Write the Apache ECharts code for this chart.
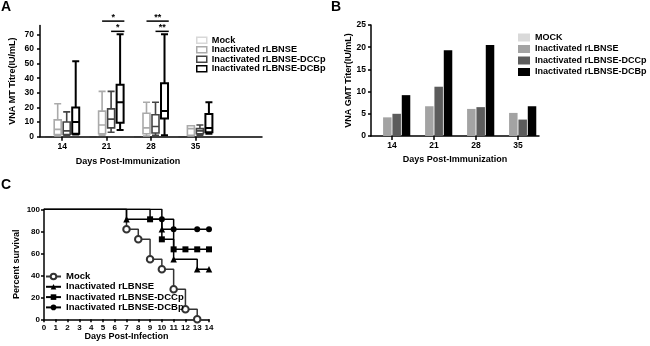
<!DOCTYPE html>
<html>
<head>
<meta charset="utf-8">
<script src="https://cdn.jsdelivr.net/npm/echarts@6.0.0/dist/echarts.min.js"></script>
<style>
  html, body { margin: 0; padding: 0; background: #fff; }
  #main { width: 650px; height: 346px; }
</style>
</head>
<body>
<div id="main"></div>
<script>
// ---- data ----
const groupsA = ['Mock', 'Inactivated rLBNSE', 'Inactivated rLBNSE-DCCp', 'Inactivated rLBNSE-DCBp']
const groupsB = ['MOCK', 'Inactivated rLBNSE', 'Inactivated rLBNSE-DCCp', 'Inactivated rLBNSE-DCBp']
const groupsC = ['Mock', 'Inactivated rLBNSE', 'Inactivated rLBNSE-DCCp', 'Inactivated rLBNSE-DCBp']
const immunDays = ['14', '21', '28', '35']

// A: VNA MT titre, [min, Q1, median, Q3, max] per day
const boxMock = [[0, 0, 0, 0, 0], [0, 0, 0, 0, 0], [0, 0, 0, 0, 0], [0, 0, 0, 0, 0]]
const boxLBNSE = [[0.5, 1.5, 5, 11.5, 22.5], [1, 2, 8, 17.5, 31], [0.5, 2, 6, 16, 23.5], [0.5, 1, 5.5, 7.5, 7.5]]
const boxDCCp = [[0.5, 1.5, 4, 10, 17], [3, 6, 12, 19, 31], [1, 2.5, 7, 15, 23.5], [1, 2, 4, 5.5, 8]]
const boxDCBp = [[1.5, 2, 10, 20, 51.5], [4.5, 9.5, 23.5, 35.5, 70], [1, 12.5, 17.5, 36.5, 70], [2, 3, 6, 15.5, 23.5]]
const yTicksA = [0, 10, 20, 30, 40, 50, 60, 70]

// significance brackets (A)
const sigDay = ['21', '21', '28', '28']
const sigFrom = [1, 2, 1, 2]
const sigTo = [3, 3, 3, 3]
const sigLevel = [79, 72, 79, 72]
const sigText = ['*', '*', '**', '**']

// B: VNA GMT titer
const gmtMock = [0, 0, 0, 0]
const gmtLBNSE = [4.2, 6.7, 6.1, 5.2]
const gmtDCCp = [5.0, 11.1, 6.5, 3.7]
const gmtDCBp = [9.2, 19.3, 20.5, 6.7]

// C: survival
const mockDays = [0, 7, 8, 9, 10, 11, 12, 13]
const mockSurv = [100, 81.8, 72.7, 54.5, 45.5, 27.3, 9.1, 0]
const lbnseDays = [0, 7, 10, 11, 13, 14]
const lbnseSurv = [100, 90.9, 81.8, 54.5, 45.5, 45.5]
const dccpDays = [0, 9, 10, 11, 12, 13, 14]
const dccpSurv = [100, 90.9, 72.7, 63.6, 63.6, 63.6, 63.6]
const dcbpDays = [0, 10, 11, 13, 14]
const dcbpSurv = [100, 90.9, 81.8, 81.8, 81.8]

const FONT = 'Liberation Sans, Arial, sans-serif'
const boxColors = ['#d8d8d8', '#aaaaaa', '#444444', '#000']
const barColors = ['#d9d9d9', '#a3a3a3', '#5c5c5c', '#000']

let chart = echarts.init(document.getElementById('main'))

function axisCommon() {
  return {
    axisLine: { show: true, lineStyle: { color: '#000', width: 1.5 } },
    axisTick: { show: true, length: 3, lineStyle: { color: '#000', width: 1.5 } },
    splitLine: { show: false },
    axisLabel: { color: '#000', fontSize: 8.5, fontWeight: 'bold', fontFamily: FONT },
    nameTextStyle: { color: '#000', fontSize: 9, fontWeight: 'bold', fontFamily: FONT }
  }
}

// prefix names so the three legends do not share series
const tag = (p, n) => p + '|' + n
const untag = n => n.split('|')[1]

// boxplot box offsets, same rule as echarts layout
function boxOffset(bandWidth, idx, count) {
  let avail = bandWidth * 0.8 - 2
  let gap = avail / count * 0.3
  let w = (avail - gap * (count - 1)) / count
  return { center: w / 2 - avail / 2 + idx * (w + gap), half: w / 2 }
}

function survData(days, surv) {
  return days.map((d, i) => i === 0 ? { value: [d, surv[i]], symbol: 'none' } : [d, surv[i]])
}

const boxSets = [boxMock, boxLBNSE, boxDCCp, boxDCBp]
const barSets = [gmtMock, gmtLBNSE, gmtDCCp, gmtDCBp]

let series = []
boxSets.forEach((d, i) => {
  series.push({
    type: 'boxplot',
    name: tag('A', groupsA[i]),
    xAxisIndex: 0,
    yAxisIndex: 0,
    data: d,
    boxWidth: [7, 7],
    z: i === 0 ? -1 : 2,
    itemStyle: { color: '#fff', borderColor: boxColors[i], borderWidth: i === 3 ? 2 : 1.6 },
    emphasis: { disabled: true }
  })
})
series.push({
  type: 'custom',
  xAxisIndex: 0,
  yAxisIndex: 0,
  clip: false,
  silent: true,
  z: 5,
  data: sigDay.map((d, i) => [immunDays.indexOf(d), sigLevel[i]]),
  renderItem: (params, api) => {
    let i = params.dataIndex
    let c = api.coord([api.value(0), api.value(1)])
    let bw = api.size([1, 0])[0]
    let a = boxOffset(bw, sigFrom[i], 4)
    let b = boxOffset(bw, sigTo[i], 4)
    let x1 = c[0] + a.center
    let x2 = c[0] + b.center + b.half + 1
    return {
      type: 'group',
      children: [
        { type: 'line', shape: { x1: x1, y1: c[1], x2: x2, y2: c[1] }, style: { stroke: '#000', lineWidth: 1.5 } },
        { type: 'text', style: { text: sigText[i], x: (x1 + x2) / 2, y: c[1] + 1, align: 'center', verticalAlign: 'bottom', font: 'bold 9px ' + FONT, fill: '#000' } }
      ]
    }
  }
})
barSets.forEach((d, i) => {
  series.push({
    type: 'bar',
    name: tag('B', groupsB[i]),
    xAxisIndex: 1,
    yAxisIndex: 1,
    data: d,
    barWidth: 8.5,
    barGap: '10%',
    itemStyle: { color: barColors[i] }
  })
})
const survSets = [[mockDays, mockSurv], [lbnseDays, lbnseSurv], [dccpDays, dccpSurv], [dcbpDays, dcbpSurv]]
const survSymbols = ['emptyCircle', 'triangle', 'rect', 'circle']
const survSizes = [6.5, 6.5, 6, 6]
survSets.forEach((s, i) => {
  let col = i === 0 ? '#333' : '#000'
  series.push({
    type: 'line',
    name: tag('C', groupsC[i]),
    xAxisIndex: 2,
    yAxisIndex: 2,
    step: 'end',
    data: survData(s[0], s[1]),
    symbol: survSymbols[i],
    symbolSize: survSizes[i],
    showAllSymbol: true,
    lineStyle: { color: col, width: 1.5 },
    itemStyle: { color: col, borderWidth: i === 0 ? 1.8 : 1 }
  })
})

const legendText = { color: '#000', fontWeight: 'bold', fontFamily: FONT }

chart.setOption({
  animation: false,
  title: [
    { text: 'A', left: 1, top: 0, padding: 0, textStyle: { fontSize: 14, fontWeight: 'bold', fontFamily: FONT, color: '#000' } },
    { text: 'B', left: 331, top: 0, padding: 0, textStyle: { fontSize: 14, fontWeight: 'bold', fontFamily: FONT, color: '#000' } },
    { text: 'C', left: 1, top: 178, padding: 0, textStyle: { fontSize: 14, fontWeight: 'bold', fontFamily: FONT, color: '#000' } }
  ],
  legend: [
    {
      data: groupsA.map(n => tag('A', n)),
      formatter: untag,
      orient: 'vertical', left: 196, top: 35.5, padding: 0,
      itemWidth: 10, itemHeight: 6, itemGap: 0, icon: 'rect',
      itemStyle: { color: '#fff', borderWidth: 1.5 },
      textStyle: Object.assign({ fontSize: 9.2, lineHeight: 9.5 }, legendText)
    },
    {
      data: groupsB.map(n => tag('B', n)),
      formatter: untag,
      orient: 'vertical', left: 518, top: 32.5, padding: 0,
      itemWidth: 12, itemHeight: 8, itemGap: 1.5, icon: 'rect',
      textStyle: Object.assign({ fontSize: 9, lineHeight: 10 }, legendText)
    },
    {
      data: groupsC.map(n => tag('C', n)),
      formatter: untag,
      orient: 'vertical', left: 45, top: 271.5, padding: 0,
      itemWidth: 15, itemHeight: 7, itemGap: 0.3,
      textStyle: Object.assign({ fontSize: 9.5, lineHeight: 10 }, legendText)
    }
  ],
  grid: [
    { left: 40, top: 25.5, width: 222, height: 111.2 },
    { left: 371, top: 25, width: 168, height: 111 },
    { left: 44, top: 209.3, width: 165, height: 110 }
  ],
  xAxis: [
    Object.assign(axisCommon(), {
      type: 'category', gridIndex: 0,
      data: immunDays.concat(['']),
      name: 'Days Post-Immunization', nameLocation: 'middle', nameGap: 20,
      axisTick: { show: true, length: 4, alignWithLabel: true, interval: i => i < immunDays.length, lineStyle: { color: '#000', width: 1.5 } },
      axisLabel: { interval: 0, margin: 5, color: '#000', fontSize: 8.5, fontWeight: 'bold', fontFamily: FONT },
      nameTextStyle: { color: '#000', fontSize: 9, fontWeight: 'bold', fontFamily: FONT, padding: [0, 46, 0, 0] }
    }),
    Object.assign(axisCommon(), {
      type: 'category', gridIndex: 1,
      data: immunDays,
      name: 'Days Post-Immunization', nameLocation: 'middle', nameGap: 19,
      axisTick: { show: true, length: 4, alignWithLabel: true, lineStyle: { color: '#000', width: 1.5 } },
      axisLabel: { interval: 0, margin: 5, color: '#000', fontSize: 8.5, fontWeight: 'bold', fontFamily: FONT }
    }),
    Object.assign(axisCommon(), {
      type: 'value', gridIndex: 2,
      min: 0, max: 14, interval: 1,
      name: 'Days Post-Infection', nameLocation: 'middle', nameGap: 12,
      axisLabel: { margin: 4, color: '#000', fontSize: 8, fontWeight: 'bold', fontFamily: FONT }
    })
  ],
  yAxis: [
    Object.assign(axisCommon(), {
      type: 'value', gridIndex: 0,
      min: 0, max: 76,
      name: 'VNA MT Titre(IU/mL)', nameLocation: 'middle', nameGap: 23,
      axisTick: { show: true, length: 3, customValues: yTicksA, lineStyle: { color: '#000', width: 1.5 } },
      axisLabel: { customValues: yTicksA, margin: 6, color: '#000', fontSize: 8.5, fontWeight: 'bold', fontFamily: FONT }
    }),
    Object.assign(axisCommon(), {
      type: 'value', gridIndex: 1,
      min: 0, max: 25, interval: 5,
      name: 'VNA GMT Titer(IU/mL)', nameLocation: 'middle', nameGap: 16,
      axisLabel: { margin: 5, color: '#000', fontSize: 8.5, fontWeight: 'bold', fontFamily: FONT }
    }),
    Object.assign(axisCommon(), {
      type: 'value', gridIndex: 2,
      min: 0, max: 100, interval: 20,
      name: 'Percent survival', nameLocation: 'middle', nameGap: 23,
      axisLabel: { margin: 4, color: '#000', fontSize: 8, fontWeight: 'bold', fontFamily: FONT }
    })
  ],
  series: series
})
</script>
</body>
</html>
